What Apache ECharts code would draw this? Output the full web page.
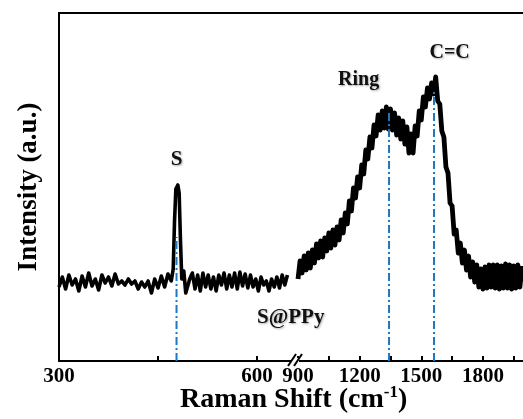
<!DOCTYPE html>
<html>
<head>
<meta charset="utf-8">
<script src="https://cdn.jsdelivr.net/npm/echarts@6/dist/echarts.min.js"></script>
<style>
  html, body { margin: 0; padding: 0; background: #fff; }
  #chart { width: 523px; height: 419px; }
</style>
</head>
<body>
<div id="chart"></div>
<script>
// low wavenumber part (left of the axis break)
const shiftLow = [300, 305, 310, 315, 320, 325, 330, 335, 340, 345, 350, 355, 360, 365, 370, 375, 380, 385, 390, 395,
  400, 405, 410, 415, 420, 425, 430, 435, 440, 445, 450, 455, 460, 465, 470, 473, 475, 477, 480, 482,
  484, 486, 489, 492, 495, 498, 502, 506, 510, 514, 518, 522, 526, 530, 534, 538, 542, 546, 550, 554,
  558, 562, 566, 570, 574, 578, 582, 586, 590, 594, 598, 602, 606, 610, 614, 618, 622, 626, 630, 634,
  638, 642, 646];
const intLow = [74, 84, 72, 86, 76, 82, 70, 85, 74, 88, 75, 82, 71, 86, 78, 84, 75, 87, 77, 80,
  76, 82, 77, 80, 72, 79, 74, 80, 68, 82, 73, 85, 74, 87, 80, 92, 140, 172, 176, 168,
  120, 82, 90, 68, 66, 82, 88, 72, 86, 70, 88, 74, 86, 72, 84, 70, 86, 76, 88, 72,
  86, 74, 88, 72, 89, 75, 87, 73, 86, 74, 82, 70, 84, 76, 80, 70, 82, 74, 84, 73,
  86, 76, 86];

// high wavenumber part (right of the axis break)
const shiftHigh = [900, 910, 920, 930, 940, 950, 960, 970, 980, 990, 1000, 1010, 1020, 1030, 1040, 1050, 1060, 1070, 1080, 1090,
  1100, 1110, 1120, 1130, 1140, 1150, 1160, 1170, 1180, 1190, 1200, 1210, 1220, 1230, 1240, 1250, 1260, 1270, 1280, 1290,
  1300, 1310, 1320, 1330, 1340, 1350, 1360, 1370, 1380, 1390, 1400, 1410, 1420, 1430, 1440, 1450, 1460, 1470, 1480, 1490,
  1500, 1510, 1520, 1530, 1540, 1550, 1560, 1570, 1580, 1590, 1600, 1610, 1620, 1630, 1640, 1650, 1660, 1670, 1680, 1690,
  1700, 1710, 1720, 1730, 1740, 1750, 1760, 1770, 1780, 1790, 1800, 1810, 1820, 1830, 1840, 1850, 1860, 1870, 1880, 1890,
  1900, 1910, 1920, 1930, 1940, 1950, 1960, 1970, 1980, 1990];
const intHigh = [82, 100, 88, 105, 91, 108, 93, 111, 98, 117, 103, 120, 104, 123, 110, 128, 113, 131, 116, 134,
  121, 141, 128, 148, 137, 160, 150, 173, 163, 184, 173, 196, 187, 211, 202, 224, 213, 236, 225, 246,
  231, 250, 233, 254, 232, 252, 231, 248, 226, 243, 222, 240, 217, 234, 208, 227, 208, 235, 225, 250,
  241, 264, 254, 273, 262, 278, 267, 284, 260, 257, 230, 224, 194, 188, 158, 155, 127, 131, 108, 118,
  98, 111, 91, 105, 84, 99, 79, 96, 74, 92, 72, 94, 73, 96, 74, 96, 73, 96, 72, 95,
  73, 97, 73, 96, 72, 95, 73, 96, 74, 95];

// marked bands
const peakShift = [478, 1343, 1562];
const peakTop = [124, 251, 271];

const xTicksLow = [300, 450, 600];
const xLabelsLow = [300, 600];
const xTicksHigh = [900, 1050, 1200, 1350, 1500, 1650, 1800, 1950];
const xLabelsHigh = [900, 1200, 1500, 1800];

const serif = '"Liberation Serif", "Times New Roman", serif';
const pairs = (xs, ys) => xs.map((x, i) => [x, ys[i]]);

const chart = echarts.init(document.getElementById('chart'));

const tickLabel = { fontFamily: serif, fontWeight: 'bold', fontSize: 21, color: '#000', margin: 5,
  formatter: v => String(v) };
const axisLine = { show: true, onZero: false, lineStyle: { color: '#000', width: 2 } };
const tick = { show: true, inside: true, length: 5, lineStyle: { color: '#000', width: 2 } };
const annot = { fontFamily: serif, fontWeight: 'bold', color: '#111',
  textShadowColor: 'rgba(0,0,0,0.35)', textShadowBlur: 2, textShadowOffsetX: 1, textShadowOffsetY: 1 };

function guide(shift, top, xi) {
  return {
    type: 'line', xAxisIndex: xi, yAxisIndex: xi, z: 5,
    data: [[shift, 0], [shift, top]],
    symbol: 'none', silent: true,
    lineStyle: { color: '#1a78c8', width: 2, type: [8, 3, 2, 3] }
  };
}

chart.setOption({
  animation: false,
  backgroundColor: '#fff',
  grid: [
    { left: 59, top: 13, width: 239, height: 348 },
    { left: 298, top: 13, width: 230, height: 348 }
  ],
  xAxis: [
    { type: 'value', gridIndex: 0, min: 300, max: 662, position: 'bottom',
      axisLine: axisLine, splitLine: { show: false },
      axisTick: Object.assign({ customValues: xTicksLow }, tick),
      axisLabel: Object.assign({ customValues: xLabelsLow }, tickLabel) },
    { type: 'value', gridIndex: 1, min: 900, max: 1995, position: 'bottom',
      axisLine: axisLine, splitLine: { show: false },
      axisTick: Object.assign({ customValues: xTicksHigh }, tick),
      axisLabel: Object.assign({ customValues: xLabelsHigh }, tickLabel) },
    { type: 'value', gridIndex: 0, min: 300, max: 662, position: 'top',
      axisLine: axisLine, axisTick: { show: false }, axisLabel: { show: false }, splitLine: { show: false } },
    { type: 'value', gridIndex: 1, min: 900, max: 1995, position: 'top',
      axisLine: axisLine, axisTick: { show: false }, axisLabel: { show: false }, splitLine: { show: false } }
  ],
  yAxis: [
    { type: 'value', gridIndex: 0, min: 0, max: 348,
      name: 'Intensity (a.u.)', nameLocation: 'middle', nameGap: 16,
      nameTextStyle: { fontFamily: serif, fontWeight: 'bold', fontSize: 27, color: '#000' },
      axisLine: axisLine, axisTick: { show: false }, axisLabel: { show: false }, splitLine: { show: false } },
    { type: 'value', gridIndex: 1, min: 0, max: 348, show: false, splitLine: { show: false } }
  ],
  series: [
    {
      type: 'line', xAxisIndex: 0, yAxisIndex: 0, z: 3,
      data: pairs(shiftLow, intLow), symbol: 'none',
      lineStyle: { color: '#000', width: 3.6, join: 'round' },
      markPoint: {
        symbol: 'circle', symbolSize: 0, silent: true,
        data: [
          { coord: [478, 201], label: Object.assign({ show: true, position: 'inside', formatter: 'S', fontSize: 21 }, annot) },
          { coord: [651, 43], label: Object.assign({ show: true, position: 'inside', formatter: 'S@PPy', fontSize: 21 }, annot) }
        ]
      }
    },
    {
      type: 'line', xAxisIndex: 1, yAxisIndex: 1, z: 3,
      data: pairs(shiftHigh, intHigh), symbol: 'none',
      lineStyle: { color: '#000', width: 4.8, join: 'round' },
      markPoint: {
        symbol: 'circle', symbolSize: 0, silent: true,
        data: [
          { coord: [1195, 281], label: Object.assign({ show: true, position: 'inside', formatter: 'Ring', fontSize: 20 }, annot) },
          { coord: [1638, 308], label: Object.assign({ show: true, position: 'inside', formatter: 'C=C', fontSize: 20 }, annot) }
        ]
      }
    },
    guide(peakShift[0], peakTop[0], 0),
    guide(peakShift[1], peakTop[1], 1),
    guide(peakShift[2], peakTop[2], 1)
  ],
  graphic: [
    // axis break marks
    { type: 'rect', shape: { x: 292, y: 358, width: 7, height: 6 }, style: { fill: '#fff' }, z: 20 },
    { type: 'line', shape: { x1: 288, y1: 366, x2: 296, y2: 354 }, style: { stroke: '#000', lineWidth: 2 }, z: 21 },
    { type: 'line', shape: { x1: 294, y1: 366, x2: 302, y2: 354 }, style: { stroke: '#000', lineWidth: 2 }, z: 21 },
    // x axis title with superscript
    {
      type: 'text', left: 180, top: 384, z: 10,
      style: {
        text: '{b|Raman Shift (cm}{s|-1}{b|)}',
        rich: {
          b: { fontFamily: serif, fontWeight: 'bold', fontSize: 28, color: '#000' },
          s: { fontFamily: serif, fontWeight: 'bold', fontSize: 17, color: '#000', verticalAlign: 'top', padding: [0, 0, 14, 0] }
        }
      }
    }
  ]
});
</script>
</body>
</html>
